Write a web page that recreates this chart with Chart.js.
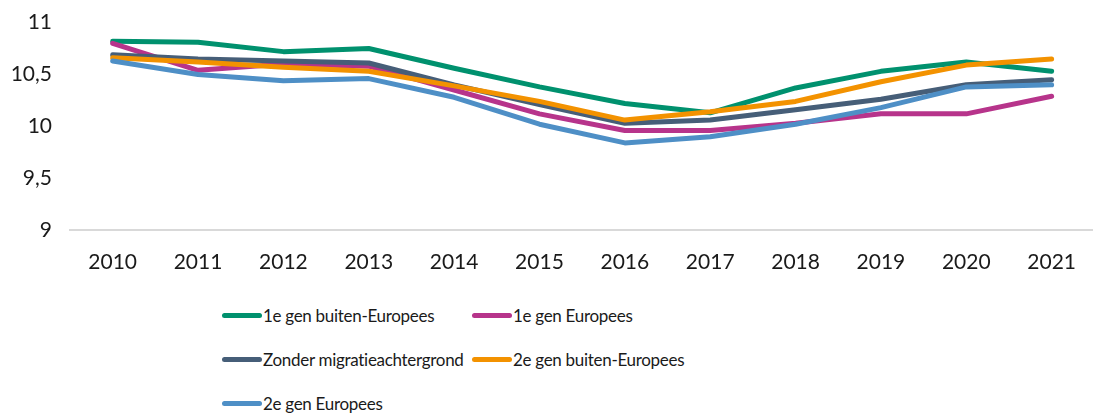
<!DOCTYPE html>
<html lang="nl">
<head>
<meta charset="utf-8">
<title>Lijngrafiek 2010-2021</title>
<script src="https://cdn.jsdelivr.net/npm/chart.js@4/dist/chart.umd.min.js"></script>
<style>
    html, body { margin: 0; padding: 0; background: #fff; }
    body { width: 1093px; height: 420px; position: relative; overflow: hidden; font-family: Lato, "Open Sans", sans-serif; }
    #chartWrap { position: absolute; left: 0; top: -8px; width: 1096px; height: 293px; }
    #legend { position: absolute; left: 222px; top: 293px; display: grid; grid-template-columns: 250px 300px; grid-auto-rows: 44px; }
    .item { display: flex; align-items: center; font-size: 17px; letter-spacing: -0.3px; color: #1a1a1a; white-space: nowrap; }
    .swatch { width: 40px; height: 5px; border-radius: 3px; margin-right: 1px; }
</style>
</head>
<body>
<div id="chartWrap"><canvas id="lineChart"></canvas></div>
<div id="legend"></div>
<script>
// Jaren en reeksen
const years = ['2010', '2011', '2012', '2013', '2014', '2015', '2016', '2017', '2018', '2019', '2020', '2021'];

const eersteGenBuitenEuropees = [10.82, 10.81, 10.72, 10.75, 10.56, 10.38, 10.22, 10.13, 10.37, 10.53, 10.62, 10.53];
const eersteGenEuropees = [10.80, 10.54, 10.60, 10.58, 10.35, 10.12, 9.96, 9.96, 10.03, 10.12, 10.12, 10.29];
const zonderMigratie = [10.69, 10.65, 10.63, 10.61, 10.40, 10.21, 10.03, 10.06, 10.16, 10.26, 10.40, 10.45];
const tweedeGenBuitenEuropees = [10.66, 10.62, 10.57, 10.53, 10.39, 10.24, 10.06, 10.14, 10.24, 10.43, 10.59, 10.65];
const tweedeGenEuropees = [10.63, 10.50, 10.44, 10.46, 10.28, 10.02, 9.84, 9.90, 10.02, 10.18, 10.38, 10.40];

const seriesNames = ['1e gen buiten-Europees', '1e gen Europees', 'Zonder migratieachtergrond', '2e gen buiten-Europees', '2e gen Europees'];
const seriesData = [eersteGenBuitenEuropees, eersteGenEuropees, zonderMigratie, tweedeGenBuitenEuropees, tweedeGenEuropees];
const seriesColors = ['#00916e', '#b7348b', '#465e78', '#f39200', '#4e8fc6'];

const yTicks = [9, 9.5, 10, 10.5, 11];

Chart.defaults.font.family = 'Lato, "Open Sans", sans-serif';
Chart.defaults.color = '#1a1a1a';

// laatste reeks bovenop tekenen
const datasets = seriesNames.map((name, i) => ({
    label: name,
    data: seriesData[i],
    borderColor: seriesColors[i],
    backgroundColor: seriesColors[i],
    borderWidth: 5,
    borderCapStyle: 'round',
    borderJoinStyle: 'round',
    pointRadius: 0,
    tension: 0,
    order: seriesNames.length - i
}));

const chart = new Chart(document.getElementById('lineChart'), {
    type: 'line',
    data: { labels: years, datasets: datasets },
    options: {
        responsive: true,
        maintainAspectRatio: false,
        animation: false,
        layout: { padding: { top: 11, right: 0, bottom: 0, left: 0 } },
        plugins: {
            legend: { display: false },
            tooltip: { enabled: false }
        },
        scales: {
            x: {
                offset: true,
                grid: { display: false, drawTicks: false },
                border: { display: true, color: '#d9d9d9', width: 2 },
                ticks: { padding: 20, font: { size: 21 }, maxRotation: 0 },
                afterFit: scale => { scale.height = 55; }
            },
            y: {
                min: 9,
                max: 11,
                grid: { display: false, drawTicks: false },
                border: { display: false },
                afterBuildTicks: scale => { scale.ticks = yTicks.map(v => ({ value: v })); },
                ticks: {
                    padding: 18,
                    font: { size: 21 },
                    callback: v => String(v).replace('.', ',')
                },
                afterFit: scale => { scale.width = 70; }
            }
        }
    }
});

// Legenda in twee kolommen
const legend = document.getElementById('legend');
seriesNames.forEach((name, i) => {
    const item = document.createElement('div');
    item.className = 'item';
    item.innerHTML = `<span class="swatch" style="background:${seriesColors[i]}"></span><span>${name}</span>`;
    legend.appendChild(item);
});
</script>
</body>
</html>
